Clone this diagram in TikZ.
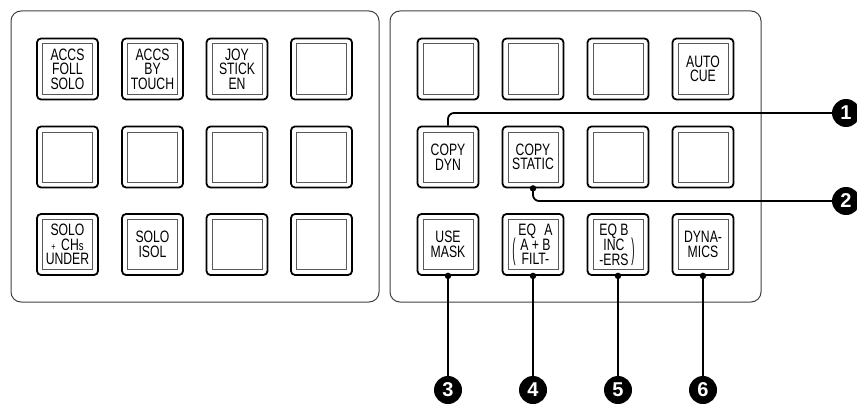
\documentclass[tikz,border=0pt]{standalone}
\usepackage{fontspec}
\setmainfont{Liberation Sans}
\newfontfamily\btnfont[FakeStretch=0.74]{Liberation Sans}
\begin{document}
\begin{tikzpicture}[x=1pt,y=-1pt,
  panel/.style={draw=black!75, line width=1pt, rounded corners=10pt},
  btn/.style={draw, line width=1.8pt, rounded corners=4pt, minimum size=61pt, inner sep=0pt},
  btninner/.style={draw=black!65, line width=1pt, minimum size=50pt, inner sep=0pt,
    font=\btnfont\fontsize{16.5pt}{14.5pt}\selectfont, align=center},
  btntxt/.style={inner sep=0pt, align=center, font=\btnfont\fontsize{16.5pt}{14.5pt}\selectfont},
  paren/.style={inner sep=0pt, font=\btnfont\fontsize{16.5pt}{16.5pt}\selectfont},
  lead/.style={line width=1.8pt, rounded corners=6pt},
  num/.style={circle, fill=black, text=white, minimum size=28pt, inner sep=0pt,
    font=\bfseries\fontsize{20pt}{20pt}\selectfont},
  dot/.style={circle, fill=black, minimum size=6.5pt, inner sep=0pt}]
\useasboundingbox (0,0) rectangle (857,404);

% panels
\draw[panel] (11,11) rectangle (379,302);
\draw[panel] (390,11) rectangle (761,302);

% left panel buttons
\foreach \c/\x in {1/67.5,2/152.5,3/237,4/321.5}{
  \foreach \r/\y in {1/69,2/157,3/244.5}{
    \node[btn] (L\r\c) at (\x,\y) {};
  }
}
\node[btninner] (LT11) at (L11) {ACCS\\FOLL\\SOLO};
\node[btninner] (LT12) at (L12) {ACCS\\BY\\TOUCH};
\node[btninner] (LT13) at (L13) {JOY\\STICK\\EN};
\node[btninner] (LT14) at (L14) {};
\node[btninner] (LT21) at (L21) {};
\node[btninner] (LT22) at (L22) {};
\node[btninner] (LT23) at (L23) {};
\node[btninner] (LT24) at (L24) {};
\node[btninner] (LT31) at (L31) {SOLO\\{\fontsize{10pt}{10pt}\selectfont+}\,\,CH{\fontsize{13pt}{13pt}\selectfont s}\\UNDER};
\node[btninner] (LT32) at (L32) {SOLO\\ISOL};
\node[btninner] (LT33) at (L33) {};
\node[btninner] (LT34) at (L34) {};

% right panel buttons
\foreach \c/\x in {1/448,2/533,3/618,4/703}{
  \foreach \r/\y in {1/69,2/157,3/244.5}{
    \node[btn] (R\r\c) at (\x,\y) {};
  }
}
\node[btninner] (RT11) at (R11) {};
\node[btninner] (RT12) at (R12) {};
\node[btninner] (RT13) at (R13) {};
\node[btninner] (RT14) at (R14) {AUTO\\CUE};
\node[btninner] (RT21) at (R21) {COPY\\DYN};
\node[btninner] (RT22) at (R22) {COPY\\STATIC};
\node[btninner] (RT23) at (R23) {};
\node[btninner] (RT24) at (R24) {};
\node[btninner] (RT31) at (R31) {USE\\MASK};
\node[btninner] (RT32) at (R32) {};
\node[btninner] (RT33) at (R33) {};
\node[btninner] (RT34) at (R34) {DYNA-\\MICS};

% EQ A text
\node[btntxt] (eqa) at (535.5,244.5) {EQ\enspace A\\A + B\\FILT-};
\node[paren] (eqap) at (514,252) {\scalebox{0.8}[1.8]{(}};
% EQ B text
\node[btntxt] (eqb) at (614,244.5) {EQ B\\INC\\-ERS};
\node[paren] (eqbp) at (633,252) {\scalebox{0.8}[1.8]{)}};

% callout circles
\node[num] (n1) at (846,113) {1};
\node[num] (n2) at (846,201) {2};
\node[num] (n3) at (448,390) {3};
\node[num] (n4) at (533,390) {4};
\node[num] (n5) at (618,390) {5};
\node[num] (n6) at (703,390) {6};

% dots
\node[dot] (d2) at (R22.south) {};
\node[dot] (d3) at (R31.south) {};
\node[dot] (d4) at (R32.south) {};
\node[dot] (d5) at (R33.south) {};
\node[dot] (d6) at (R34.south) {};

% leaders
\draw[lead] (R21.north) |- (n1.west);
\draw[lead] (d2.center) |- (n2.west);
\draw[lead] (d3.center) -- (n3.north);
\draw[lead] (d4.center) -- (n4.north);
\draw[lead] (d5.center) -- (n5.north);
\draw[lead] (d6.center) -- (n6.north);
\end{tikzpicture}
\end{document}
